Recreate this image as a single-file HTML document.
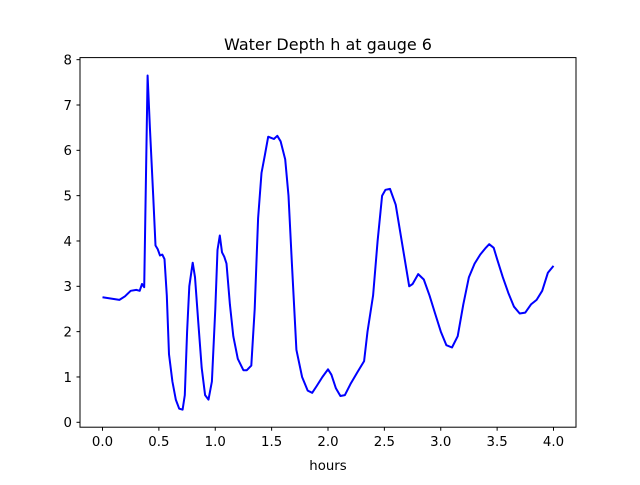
<!DOCTYPE html>
<html><head><meta charset="utf-8"><style>
body{margin:0;background:#fff;}
svg text{font-family:"DejaVu Sans","Liberation Sans",sans-serif;}
</style></head><body>
<svg id="chart" width="640" height="480" viewBox="0 0 640 480" xmlns="http://www.w3.org/2000/svg">
<rect width="640" height="480" fill="#fff"/>
<text x="328" y="50" text-anchor="middle" font-size="16">Water Depth h at gauge 6</text>
<g id="plot"></g>
<rect x="80" y="57.6" width="496" height="369.6" fill="none" stroke="#000" stroke-width="1"/>
<text x="328" y="470" text-anchor="middle" font-size="13.3">hours</text>
</svg>
<script>
const hours=[0,0.1,0.15,0.2,0.25,0.3,0.33,0.35,0.37,0.38,0.40,0.42,0.45,0.47,0.49,0.51,0.53,0.55,0.57,0.59,0.62,0.65,0.68,0.71,0.73,0.75,0.77,0.80,0.82,0.85,0.88,0.91,0.94,0.97,1.0,1.02,1.04,1.06,1.08,1.1,1.13,1.16,1.2,1.25,1.28,1.32,1.35,1.38,1.41,1.44,1.47,1.5,1.52,1.55,1.58,1.62,1.65,1.68,1.72,1.77,1.82,1.86,1.9,1.95,2.0,2.03,2.07,2.11,2.15,2.2,2.26,2.32,2.35,2.4,2.44,2.48,2.51,2.55,2.6,2.64,2.68,2.72,2.75,2.8,2.85,2.9,2.95,3.0,3.05,3.1,3.15,3.2,3.25,3.3,3.35,3.4,3.43,3.47,3.5,3.55,3.6,3.65,3.7,3.75,3.8,3.85,3.9,3.95,4.0];
const depth=[2.76,2.72,2.70,2.78,2.90,2.92,2.90,3.05,2.98,4.5,7.65,6.5,5.0,3.9,3.82,3.68,3.7,3.6,2.8,1.5,0.9,0.5,0.3,0.28,0.6,2.0,3.0,3.52,3.2,2.2,1.2,0.6,0.5,0.9,2.5,3.8,4.12,3.75,3.65,3.5,2.6,1.9,1.4,1.15,1.15,1.25,2.5,4.5,5.5,5.9,6.3,6.27,6.25,6.32,6.2,5.8,5.0,3.5,1.6,1.0,0.7,0.65,0.8,1.0,1.17,1.05,0.75,0.58,0.6,0.85,1.1,1.35,2.0,2.8,4.0,5.0,5.13,5.15,4.8,4.2,3.6,3.0,3.05,3.27,3.15,2.8,2.4,2.0,1.7,1.65,1.9,2.6,3.2,3.5,3.7,3.85,3.93,3.85,3.6,3.2,2.85,2.55,2.4,2.42,2.6,2.7,2.9,3.3,3.45];
const xTicks=[0,0.5,1.0,1.5,2.0,2.5,3.0,3.5,4.0];
const xTickLabels=["0.0","0.5","1.0","1.5","2.0","2.5","3.0","3.5","4.0"];
const yTicks=[0,1,2,3,4,5,6,7,8];
const yTickLabels=["0","1","2","3","4","5","6","7","8"];
const X=v=>102.5+v*112.75;
const Y=v=>422.3-v*45.33;
const NS="http://www.w3.org/2000/svg";
const g=document.getElementById('plot');
function mk(t,a){const e=document.createElementNS(NS,t);for(const k in a)e.setAttribute(k,a[k]);g.appendChild(e);return e;}
xTicks.forEach((v,i)=>{
 const l=mk('line',{x1:X(v),x2:X(v),y1:427.2,y2:430.7,stroke:'#000'});
 
 
 const t=mk('text',{x:X(v),y:446,'text-anchor':'middle','font-size':'13.3'});
 t.textContent=xTickLabels[i];
 
 
});
yTicks.forEach((v,i)=>{
 const l=mk('line',{x1:76.5,x2:80,y1:Y(v),y2:Y(v),stroke:'#000'});
 
 
 const t=mk('text',{x:72,y:Y(v)+4.8,'text-anchor':'end','font-size':'13.3'});
 t.textContent=yTickLabels[i];
 
 
});
const pts=hours.map((h,i)=>X(h).toFixed(1)+','+Y(depth[i]).toFixed(1)).join(' ');
const pl=mk('polyline',{points:pts,fill:'none',stroke:'#0000ff','stroke-width':'2','stroke-linejoin':'round'});


</script>
</body></html>
